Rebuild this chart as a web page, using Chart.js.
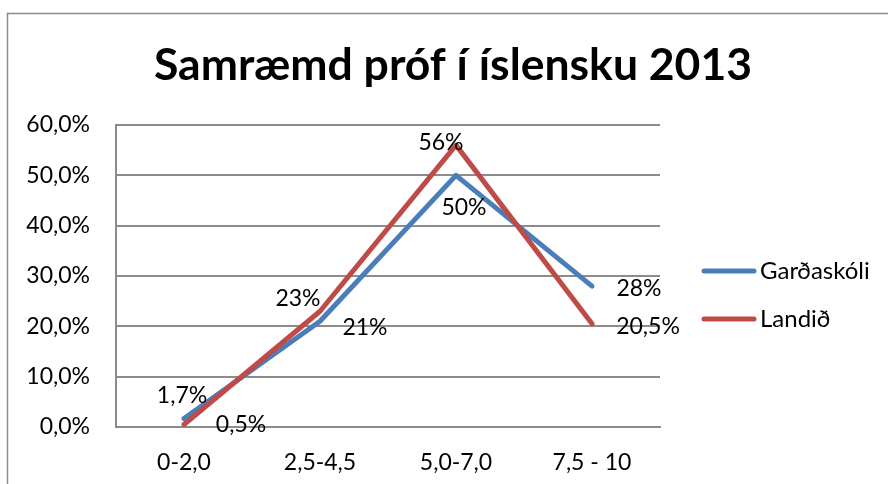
<!DOCTYPE html>
<html><head><meta charset="utf-8">
<script src="https://cdn.jsdelivr.net/npm/chart.js@4.4.1/dist/chart.umd.min.js"></script>
<style>html,body{margin:0;padding:0;background:#fff;overflow:hidden}</style>
</head><body>
<canvas id="c" width="888" height="484"></canvas>
<script>
const chartTitle = 'Samræmd próf í íslensku 2013';
const categories = ['0-2,0', '2,5-4,5', '5,0-7,0', '7,5 - 10'];
const seriesNames = ['Garðaskóli', 'Landið'];
const gardaskoli = [1.7, 21, 50, 28];
const landid = [0.5, 23, 56, 20.5];
const yMin = 0, yMax = 60, yStep = 10;

const colors = ['#4A7EBB', '#BE4B48'];
const labelOffsets = [
  [[-2, -23], [45, 6], [8, 32], [47, 2]],
  [[57, 0], [-22, -13], [-15, -3], [56, 2]]
];
const FONT = 'Lato';
const fmtPct = v => String(v).replace('.', ',') + '%';

Chart.defaults.font.family = FONT;
Chart.defaults.color = '#000';

const decor = {
  id: 'decor',
  beforeDraw(chart) {
    const ctx = chart.ctx;
    ctx.save();
    ctx.fillStyle = '#fff';
    ctx.fillRect(0, 0, chart.width, chart.height);
    ctx.strokeStyle = '#8c8c8c';
    ctx.lineWidth = 1.5;
    ctx.strokeRect(7.5, 13.5, 1000, 1000);
    ctx.restore();
  },
  afterDatasetsDraw(chart) {
    const ctx = chart.ctx;
    ctx.save();
    ctx.font = '23px ' + FONT;
    ctx.fillStyle = '#000';
    ctx.textAlign = 'center';
    ctx.textBaseline = 'alphabetic';
    chart.data.datasets.forEach((ds, di) => {
      const meta = chart.getDatasetMeta(di);
      meta.data.forEach((pt, i) => {
        const off = labelOffsets[di][i];
        ctx.fillText(fmtPct(ds.data[i]), pt.x + off[0], pt.y + off[1] + 8);
      });
    });
    // legend
    const legendY = [271, 319];
    ctx.font = '24px ' + FONT;
    seriesNames.forEach((name, i) => {
      ctx.strokeStyle = colors[i];
      ctx.lineWidth = 5;
      ctx.lineCap = 'round';
      ctx.beginPath();
      ctx.moveTo(704, legendY[i]);
      ctx.lineTo(754, legendY[i]);
      ctx.stroke();
      ctx.textAlign = 'left';
      ctx.fillText(name, 760, legendY[i] + 8);
    });
    ctx.restore();
  }
};

new Chart(document.getElementById('c'), {
  type: 'line',
  data: {
    labels: categories,
    datasets: [
      { label: seriesNames[0], data: gardaskoli, borderColor: colors[0], backgroundColor: colors[0], borderWidth: 5, pointRadius: 0, tension: 0, borderJoinStyle: 'round', borderCapStyle: 'round', order: 1 },
      { label: seriesNames[1], data: landid, borderColor: colors[1], backgroundColor: colors[1], borderWidth: 5, pointRadius: 0, tension: 0, borderJoinStyle: 'round', borderCapStyle: 'round', order: 0 }
    ]
  },
  options: {
    responsive: false,
    animation: false,
    devicePixelRatio: 1,
    layout: { padding: { left: 18, right: 0, top: 0, bottom: 0 } },
    plugins: {
      legend: { display: false },
      tooltip: { enabled: false },
      title: {
        display: true,
        text: chartTitle,
        font: { size: 44.5, weight: 'bold', family: FONT, lineHeight: 1.2 },
        color: '#000',
        padding: { top: 39, bottom: 32.6 }
      }
    },
    scales: {
      x: {
        offset: true,
        grid: { display: false, drawTicks: false },
        border: { display: true, color: '#8c8c8c', width: 2 },
        ticks: { font: { size: 23 }, padding: 22, color: '#000', maxRotation: 0 },
        afterFit(s) { s.height = 57; }
      },
      y: {
        min: yMin, max: yMax,
        ticks: { stepSize: yStep, font: { size: 23 }, padding: 26, color: '#000',
          callback: v => v.toFixed(1).replace('.', ',') + '%' },
        grid: { color: '#8c8c8c', lineWidth: 2, drawTicks: false },
        border: { display: true, color: '#8c8c8c', width: 2 },
        afterFit(s) { s.width = 98; }
      },
      y2: {
        position: 'right',
        display: true,
        grid: { display: false, drawTicks: false },
        border: { display: false },
        ticks: { display: false },
        afterFit(s) { s.width = 228; }
      }
    }
  },
  plugins: [decor]
});
</script>
</body></html>
